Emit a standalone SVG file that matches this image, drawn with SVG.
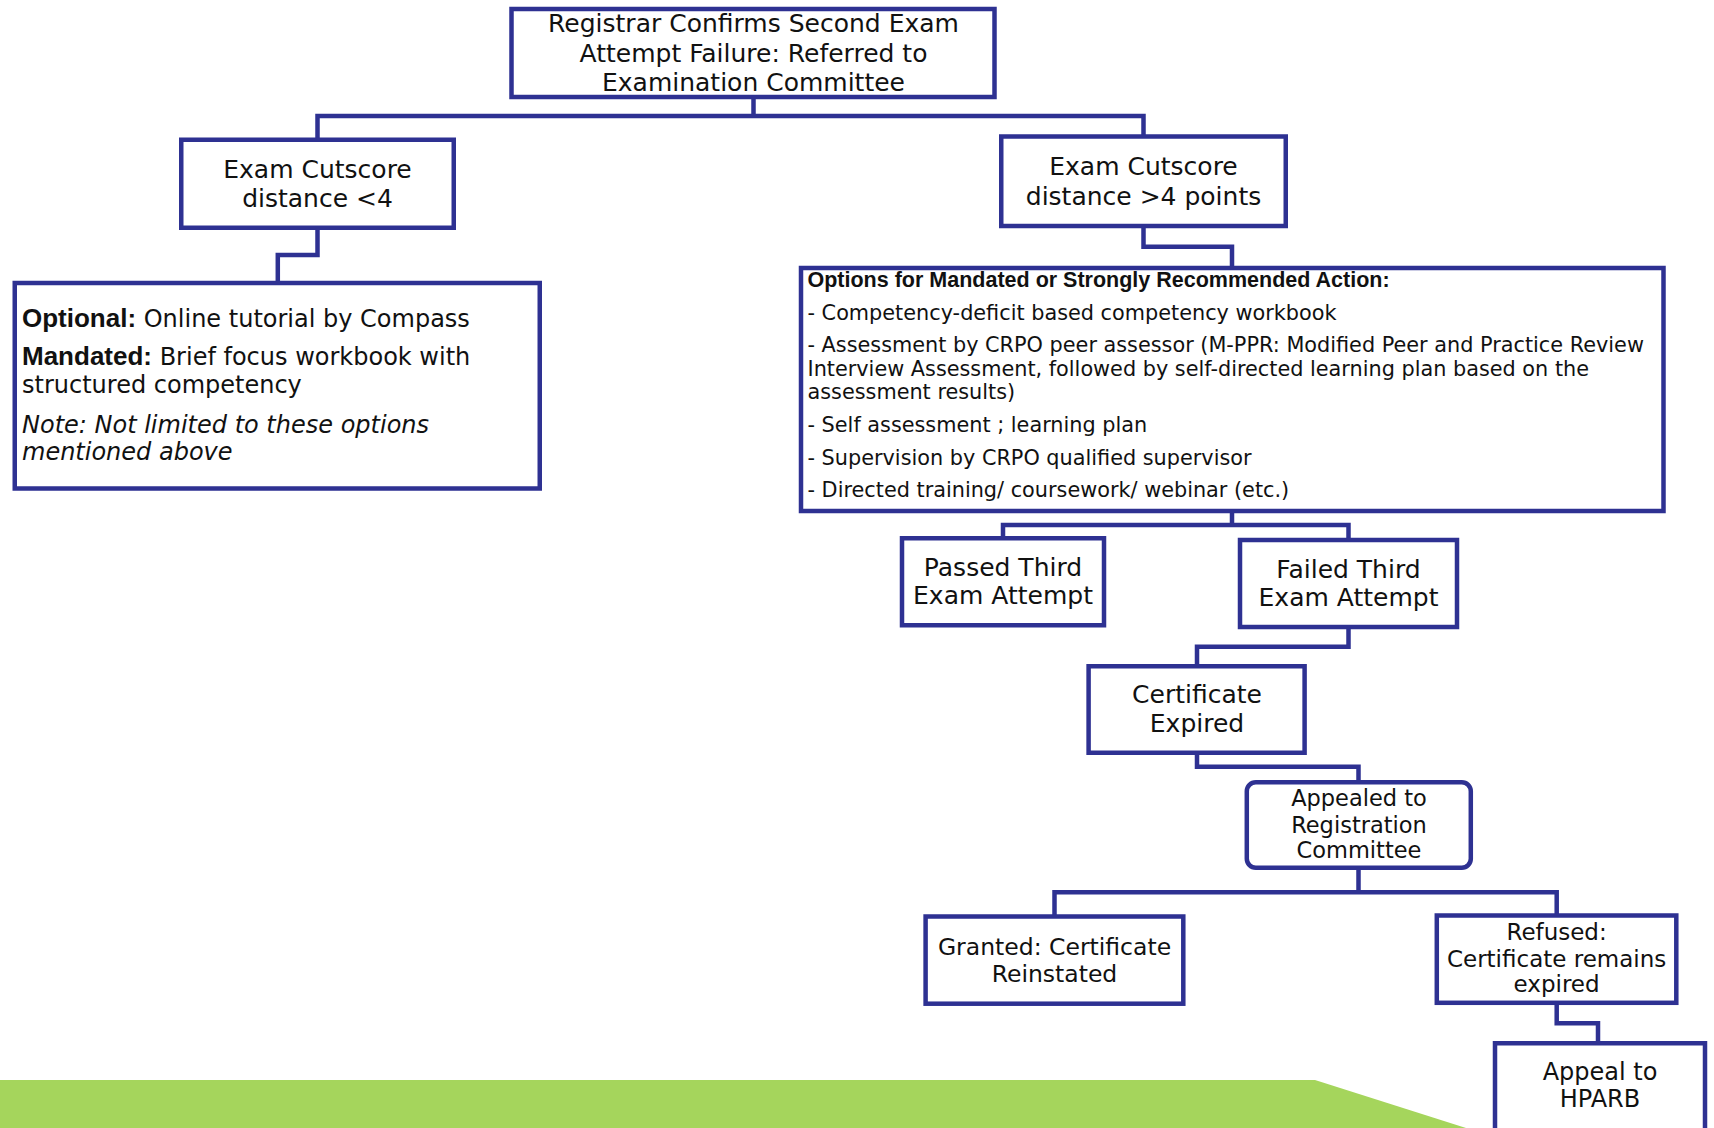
<svg xmlns="http://www.w3.org/2000/svg" width="1714" height="1128" viewBox="0 0 1714 1128">
<style>
.box{fill:#ffffff;stroke:#2e3192;stroke-width:4.5}
.con{fill:none;stroke:#2e3192;stroke-width:4.5;stroke-linejoin:miter;stroke-linecap:square}
text{font-family:"DejaVu Sans","Noto Sans",sans-serif;fill:#111111}
.c{text-anchor:middle}
.f25{font-size:25px}
.f24{font-size:24px}
.f23{font-size:23px}
.f235{font-size:23.5px}
.f225{font-size:22.5px}
.opt{font-size:20.8px}
.b{font-family:"Liberation Sans",Arial,sans-serif;font-weight:bold}
.i{font-style:italic}
</style>
<rect x="0" y="0" width="1714" height="1128" fill="#ffffff"/>
<polygon points="0,1080 1315,1080 1466,1128 0,1128" fill="#a5d55c"/>
<g id="connectors">
<path class="con" d="M753.5 99 V116 M317.5 116 H1143.5 M317.5 116 V139.75 M1143.5 116 V136.5"/>
<path class="con" d="M317.5 228 V255 H277.8 V283"/>
<path class="con" d="M1143.5 226 V246.7 H1232 V268"/>
<path class="con" d="M1232 511 V525 M1003 525 H1348.5 M1003 525 V538.25 M1348.5 525 V540"/>
<path class="con" d="M1348.5 627 V646.7 H1197 V666.25"/>
<path class="con" d="M1197 753 V766.7 H1358.5 V782.25"/>
<path class="con" d="M1358.5 868 V892.3 M1054.5 892.3 H1556.7 M1054.5 892.3 V916.5 M1556.7 892.3 V915.5"/>
<path class="con" d="M1556.7 1003 V1023.3 H1598 V1043.25"/>
</g>
<g id="node-registrar">
<rect class="box" x="511.5" y="9" width="483" height="88"/>
<text class="c f25" x="753.5" y="32">Registrar Confirms Second Exam</text>
<text class="c f25" x="753.5" y="61.5">Attempt Failure: Referred to</text>
<text class="c f25" x="753.5" y="91">Examination Committee</text>
</g>
<g id="node-cutscore-lt4">
<rect class="box" x="181.25" y="139.75" width="272.5" height="88"/>
<text class="c f25" x="317.5" y="178.3">Exam Cutscore</text>
<text class="c f25" x="317.5" y="207.3">distance &lt;4</text>
</g>
<g id="node-cutscore-gt4">
<rect class="box" x="1001.25" y="136.5" width="284.5" height="89.5"/>
<text class="c f25" x="1143.5" y="175">Exam Cutscore</text>
<text class="c f25" x="1143.5" y="205">distance &gt;4 points</text>
</g>
<g id="node-optional-mandated">
<rect class="box" x="14.75" y="283" width="525" height="205.5"/>
<text class="f24" x="22" y="326.7"><tspan class="b" font-size="26">Optional:</tspan> Online tutorial by Compass</text>
<text class="f24" x="22" y="365"><tspan class="b" font-size="26">Mandated:</tspan> Brief focus workbook with</text>
<text class="f24" x="22" y="393.3">structured competency</text>
<text class="f24 i" x="22" y="433.3">Note: Not limited to these options</text>
<text class="f24 i" x="22" y="460">mentioned above</text>
</g>
<g id="node-options">
<rect class="box" x="801" y="268" width="862.5" height="243"/>
<text class="b" font-size="21.5" x="807.5" y="287">Options for Mandated or Strongly Recommended Action:</text>
<text class="opt" x="807.5" y="320">- Competency-deficit based competency workbook</text>
<text class="opt" x="807.5" y="352.3">- Assessment by CRPO peer assessor (M-PPR: Modified Peer and Practice Review</text>
<text class="opt" x="807.5" y="376">Interview Assessment, followed by self-directed learning plan based on the</text>
<text class="opt" x="807.5" y="398.7">assessment results)</text>
<text class="opt" x="807.5" y="432.3">- Self assessment ; learning plan</text>
<text class="opt" x="807.5" y="465">- Supervision by CRPO qualified supervisor</text>
<text class="opt" x="807.5" y="497.3">- Directed training/ coursework/ webinar (etc.)</text>
</g>
<g id="node-passed">
<rect class="box" x="902" y="538.25" width="202" height="87"/>
<text class="c f25" x="1003" y="576">Passed Third</text>
<text class="c f25" x="1003" y="604.3">Exam Attempt</text>
</g>
<g id="node-failed">
<rect class="box" x="1240" y="540" width="217" height="87"/>
<text class="c f25" x="1348.5" y="577.7">Failed Third</text>
<text class="c f25" x="1348.5" y="606">Exam Attempt</text>
</g>
<g id="node-expired">
<rect class="box" x="1088.6" y="666.25" width="216" height="86.5"/>
<text class="c f25" x="1197" y="703.3">Certificate</text>
<text class="c f25" x="1197" y="732">Expired</text>
</g>
<g id="node-appealed">
<rect class="box" x="1246.8" y="782.25" width="224" height="85.5" rx="9" ry="9"/>
<text class="c f225" x="1359" y="806">Appealed to</text>
<text class="c f225" x="1359" y="832.7">Registration</text>
<text class="c f225" x="1359" y="858.3">Committee</text>
</g>
<g id="node-granted">
<rect class="box" x="925.6" y="916.5" width="257.7" height="87.2"/>
<text class="c f235" x="1054.5" y="955">Granted: Certificate</text>
<text class="c f235" x="1054.5" y="981.7">Reinstated</text>
</g>
<g id="node-refused">
<rect class="box" x="1436.8" y="915.5" width="239.5" height="87.3"/>
<text class="c f23" x="1556.6" y="940">Refused:</text>
<text class="c f23" x="1556.6" y="966.7">Certificate remains</text>
<text class="c f23" x="1556.6" y="992">expired</text>
</g>
<g id="node-hparb">
<rect class="box" x="1495" y="1043.25" width="210" height="100"/>
<text class="c f24" x="1600" y="1080">Appeal to</text>
<text class="c f24" x="1600" y="1107.3">HPARB</text>
</g>
</svg>
